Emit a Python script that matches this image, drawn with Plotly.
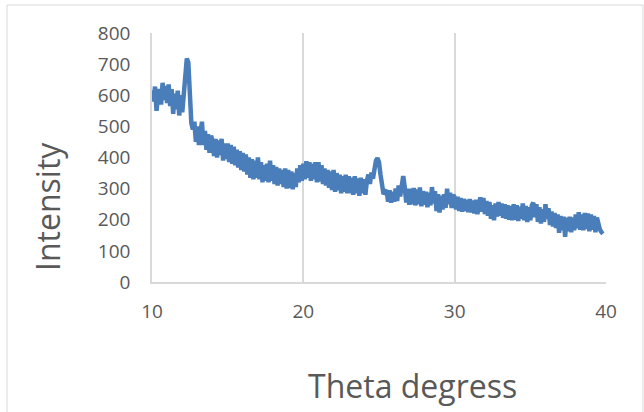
import plotly.graph_objects as go

intensity = [
    # 10.x
    615, 580, 628, 550, 600, 620, 570, 640, 585, 630,
    # 11.x
    575, 635, 565, 620, 540, 605, 555, 615, 535, 600,
    # 12.x
    545, 610, 665, 718, 705, 615, 510, 490, 515, 450,
    # 13.x
    500, 440, 490, 515, 440, 485, 425, 475, 415, 470,
    # 14.x
    455, 405, 460, 400, 455, 408, 460, 390, 445, 395,
    # 15.x
    445, 385, 440, 380, 435, 375, 425, 368, 420, 360,
    # 16.x
    415, 355, 410, 345, 400, 335, 395, 330, 390, 335,
    # 17.x
    400, 330, 385, 320, 375, 325, 380, 320, 390, 325,
    # 18.x
    375, 315, 370, 310, 365, 315, 360, 305, 365, 300,
    # 19.x
    360, 302, 355, 298, 350, 305, 365, 320, 375, 325,
    # 20.x
    380, 330, 388, 335, 385, 325, 380, 330, 385, 320,
    # 21.x
    385, 323, 375, 315, 365, 310, 360, 303, 355, 295,
    # 22.x
    360, 290, 350, 295, 345, 285, 340, 290, 345, 285,
    # 23.x
    340, 285, 335, 280, 340, 285, 333, 277, 335, 285,
    # 24.x
    330, 280, 325, 345, 315, 352, 332, 370, 390, 398,
    # 25.x
    385, 345, 322, 282, 290, 295, 258, 295, 255, 290,
    # 26.x
    258, 300, 260, 310, 275, 325, 340, 305, 255, 300,
    # 27.x
    248, 300, 250, 302, 246, 297, 250, 304, 243, 292,
    # 28.x
    248, 290, 240, 287, 246, 305, 252, 292, 228, 282,
    # 29.x
    223, 277, 233, 282, 238, 300, 250, 287, 238, 280,
    # 30.x
    272, 233, 274, 228, 270, 226, 267, 228, 264, 224,
    # 31.x
    267, 223, 262, 220, 264, 218, 260, 272, 226, 270,
    # 32.x
    218, 260, 213, 257, 203, 247, 198, 252, 210, 257,
    # 33.x
    213, 252, 206, 250, 203, 247, 200, 244, 198, 250,
    # 34.x
    200, 247, 196, 242, 203, 252, 198, 244, 193, 240,
    # 35.x
    198, 247, 255, 208, 250, 193, 240, 188, 234, 193,
    # 36.x
    250, 203, 237, 183, 227, 178, 222, 173, 217, 158,
    # 37.x
    212, 166, 210, 145, 207, 163, 210, 160, 207, 166,
    # 38.x
    217, 173, 224, 168, 217, 166, 222, 170, 220, 163,
    # 39.x
    217, 168, 212, 160, 207, 178, 168, 160, 155,
]
theta = [round(10 + 0.1 * i, 1) for i in range(len(intensity))]

x_ticks = [10, 20, 30, 40]
y_ticks = [0, 100, 200, 300, 400, 500, 600, 700, 800]

grid = "#d9d9d9"
txt = "#595959"
font_family = "Open Sans"

fig = go.Figure()
fig.add_trace(go.Scatter(
    x=theta, y=intensity, mode="lines",
    line=dict(color="#4a7ebb", width=4.5),
    showlegend=False, hoverinfo="skip",
))

fig.update_layout(
    width=644, height=412,
    margin=dict(l=152, r=38, t=33, b=130),
    paper_bgcolor="white", plot_bgcolor="white",
    font=dict(family=font_family, color=txt, size=19),
    xaxis=dict(
        range=[10, 40], tickvals=x_ticks, ticktext=[str(v) for v in x_ticks],
        showgrid=True, gridcolor=grid, gridwidth=1.5,
        showline=True, linecolor=grid, linewidth=1.5,
        zeroline=False, ticks="", ticklabelstandoff=11, automargin=False,
        tickfont=dict(size=19, color=txt, family=font_family),
    ),
    yaxis=dict(
        range=[0, 800], tickvals=y_ticks, ticktext=[str(v) for v in y_ticks],
        showgrid=False, showline=True, linecolor=grid, linewidth=1.5,
        zeroline=False, ticks="", ticklabelstandoff=16, automargin=False,
        tickfont=dict(size=19, color=txt, family=font_family),
    ),
    shapes=[dict(type="rect", xref="paper", yref="paper",
                 x0=-145 / 454, x1=(643 - 152) / 454,
                 y0=-(412 - 282 + 20) / 249, y1=(282 - 5) / 249,
                 line=dict(color=grid, width=1), fillcolor="rgba(0,0,0,0)",
                 layer="below")],
    annotations=[
        dict(text="Theta degress", xref="paper", yref="paper",
             x=(412 - 152) / 454, y=-(385 - 282) / 249,
             xanchor="center", yanchor="middle", showarrow=False,
             font=dict(size=32, color=txt, family=font_family)),
        dict(text="Intensity", xref="paper", yref="paper",
             x=-(152 - 47) / 454, y=(282 - 207) / 249, textangle=-90,
             xanchor="center", yanchor="middle", showarrow=False,
             font=dict(size=32, color=txt, family=font_family)),
    ],
)

fig.write_html("out.html", config={"displayModeBar": False},
               post_script="document.body.style.margin='0';")
